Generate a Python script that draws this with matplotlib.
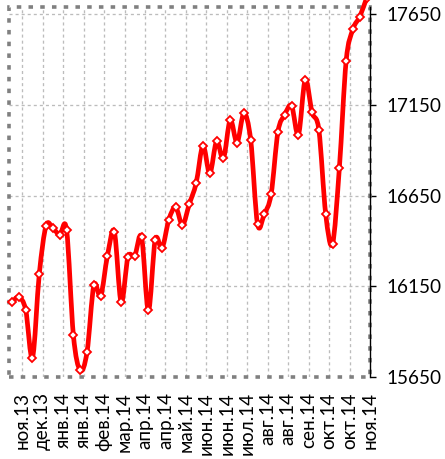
import numpy as np
import matplotlib
matplotlib.use("Agg")
import matplotlib.pyplot as plt
from matplotlib.path import Path
from matplotlib.patches import PathPatch, Rectangle

plt.rcParams['font.family'] = ['Lato', 'Noto Sans', 'DejaVu Sans']

# weekly index values
values = [16063, 16090, 16021, 15757, 16219, 16485, 16470, 16434, 16461, 15880,
          15687, 15788, 16155, 16097, 16320, 16452, 16063, 16310, 16320, 16421,
          16017, 16406, 16360, 16518, 16586, 16489, 16604, 16719, 16925, 16773,
          16949, 16855, 17067, 16943, 17103, 16957, 16494, 16549, 16659, 17002,
          17097, 17145, 16986, 17289, 17109, 17012, 16549, 16384, 16800, 17393,
          17568, 17637, 17740]

tick_labels = ["ноя.13", "дек.13", "янв.14", "янв.14", "фев.14", "мар.14",
               "апр.14", "апр.14", "май.14", "июн.14", "июн.14", "июл.14",
               "авг.14", "авг.14", "сен.14", "окт.14", "окт.14", "ноя.14"]

y_ticks = [15650, 16150, 16650, 17150, 17650]

x = np.arange(len(values), dtype=float)
y = np.array(values, dtype=float)

fig = plt.figure(figsize=(4.45, 4.59), dpi=100)
ax = fig.add_axes([0.0209, 0.1786, 0.8106, 0.8061])
ax.set_xlim(-0.4, 52.5)
ax.set_ylim(15650, 17690)

# grid
grid_kw = dict(color='#bcbcbc', lw=0.95, linestyle=(0, (2.3, 2.3)), zorder=1)
tick_pos = [1.5 + 3 * k for k in range(len(tick_labels))]
for tp in tick_pos[:-1]:
    ax.axvline(tp, **grid_kw)
for yt in y_ticks[1:]:
    ax.axhline(yt, **grid_kw)

# dashed plot-area border
border = Rectangle((0, 0), 1, 1, transform=ax.transAxes, fill=False,
                   edgecolor='#808080', lw=2.6, linestyle=(0, (1.25, 2.0)),
                   clip_on=False, zorder=2)
ax.add_patch(border)

for s in ['left', 'top', 'bottom']:
    ax.spines[s].set_visible(False)
ax.spines['right'].set_color('black')
ax.spines['right'].set_linewidth(1.0)
ax.spines['right'].set_zorder(3)

# smoothed line (Bezier through the data points)
pts = np.column_stack([x, y])
n = len(pts)
verts = [pts[0]]
codes = [Path.MOVETO]
for i in range(n - 1):
    p0 = pts[i - 1] if i > 0 else pts[i]
    p1 = pts[i]
    p2 = pts[i + 1]
    p3 = pts[i + 2] if i + 2 < n else pts[i + 1]
    c1 = p1 + (p2 - p0) / 6.0
    c2 = p2 - (p3 - p1) / 6.0
    verts += [c1, c2, p2]
    codes += [Path.CURVE4] * 3
path = Path(np.array(verts), codes)
ax.add_patch(PathPatch(path, facecolor='none', edgecolor='#ff0000', lw=3.4,
                       capstyle='round', joinstyle='round', clip_on=False, zorder=4))
ax.plot(x, y, linestyle='none', marker='D', ms=3.8, mew=1.3, mfc='white',
        mec='#ff0000', clip_on=False, zorder=5)

# axes ticks
ax.set_xticks(tick_pos)
ax.set_xticklabels(tick_labels, rotation=90, fontsize=13.6)
ax.tick_params(axis='x', length=0, pad=11)
ax.yaxis.tick_right()
ax.set_yticks(y_ticks)
ax.set_yticklabels([str(v) for v in y_ticks], fontsize=13.6)
ax.tick_params(axis='y', direction='out', length=4, width=1, pad=8, right=True, left=False)

fig.savefig('out.png', dpi=100)
